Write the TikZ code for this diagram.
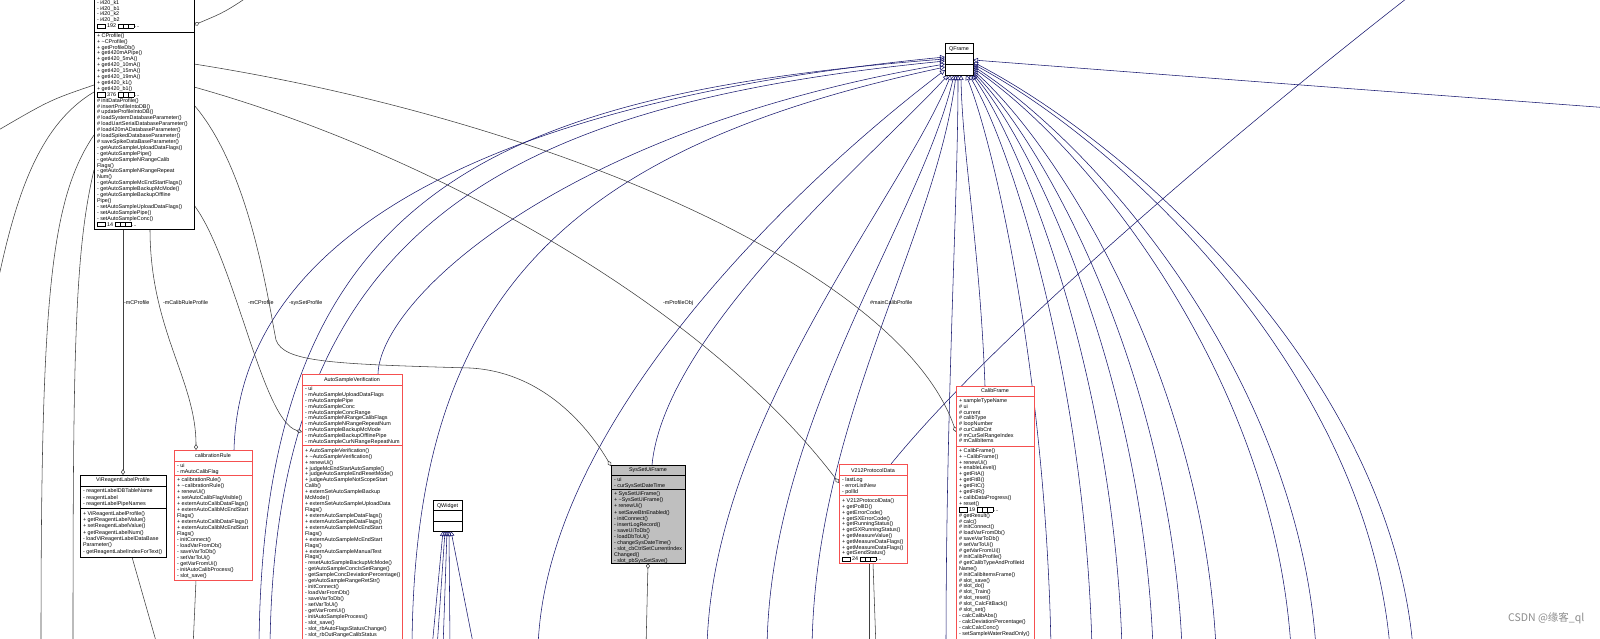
\documentclass[tikz,border=0pt]{standalone}
\usepackage{fontspec}
\setmainfont{Liberation Sans}
\newfontfamily\dxfont{Liberation Sans}
\newfontfamily\dxcjk{Noto Sans CJK SC}
\usetikzlibrary{arrows.meta,calc,backgrounds}
\definecolor{dxnavy}{RGB}{25,25,112}
\definecolor{dxgrey}{RGB}{64,64,64}
\definecolor{dxred}{RGB}{245,80,80}
\definecolor{dxfill}{RGB}{191,191,191}
\newcommand\dxbx[1]{\raisebox{-0.4pt}{\setlength{\fboxsep}{0pt}\setlength{\fboxrule}{0.35pt}\fbox{\rule{0pt}{4.2pt}\hspace*{#1}}}}
\newcommand\dxtrunc[1]{\dxbx{8pt}\ #1\ \dxbx{5pt}\kern-0.35pt\dxbx{5pt}\kern-0.35pt\dxbx{5pt}\,...}
\begin{document}
\begin{tikzpicture}[x=1pt,y=-1pt,
  dxbox/.style={draw=black, line width=0.6pt, fill=white, inner sep=0pt, outer sep=0pt, anchor=north west},
  dxrbox/.style={dxbox, draw=dxred},
  dxtxt/.style={inner sep=0pt, outer sep=0pt, anchor=north west, align=left, font={\dxfont\fontsize{5.4pt}{#1}\selectfont\lineskiplimit=-20pt\lineskip=0pt}},
  dxtxt/.default=5.9pt,
  dxttl/.style={inner sep=0pt, outer sep=0pt, anchor=base, font={\dxfont\fontsize{5.4pt}{6pt}\selectfont}},
  dxlbl/.style={inner sep=0pt, outer sep=0pt, anchor=base west, font={\dxfont\fontsize{5.4pt}{6pt}\selectfont}},
  dxinh/.style={draw=dxnavy, line width=0.55pt, -{Triangle[open,length=5pt,width=5pt]}},
  dxuse/.style={draw=dxgrey, line width=0.55pt, -{Diamond[open,length=6pt,width=4pt]}},
  dxsep/.style={line width=0.6pt}
]
\useasboundingbox (0,0) rectangle (1600,638);
\clip (0,0) rectangle (1600,638);

% ---------------- CProfile
\node[dxbox, minimum width=100pt, minimum height=269pt] (cprof) at (94,-40) {};
\draw[dxsep] (94,32) -- (194,32);
\node[dxtxt] (cprofA) at (97,0.2) {- i420\_k1\\- i420\_b1\\- i420\_k2\\- i420\_b2\\\dxtrunc{192}};
\node[dxtxt] (cprofM) at (97,33.3) {+ CProfile()\\+ \textasciitilde CProfile()\\+ getProfileDb()\\+ getI420mAPipe()\\+ getI420\_5mA()\\+ getI420\_10mA()\\+ getI420\_15mA()\\+ getI420\_19mA()\\+ getI420\_k1()\\+ getI420\_b1()\\\dxtrunc{376}\\\# initDataProfile()\\\# insertProfileIntoDB()\\\# updateProfileIntoDB()\\\# loadSystemDatabaseParameter()\\\# loadUartSerialDatabaseParameter()\\\# load420mADatabaseParameter()\\\# loadSpikedDatabaseParameter()\\\# saveSpikeDataBaseParameter()\\- getAutoSampleUploadDataFlags()\\- getAutoSamplePipe()\\- getAutoSampleNRangeCalib\\Flags()\\- getAutoSampleNRangeRepeat\\Num()\\- getAutoSampleMcEndStartFlags()\\- getAutoSampleBackupMcMode()\\- getAutoSampleBackupOffline\\Pipe()\\- setAutoSampleUploadDataFlags()\\- setAutoSamplePipe()\\- setAutoSampleConc()\\\dxtrunc{14}};

% ---------------- QFrame
\node[dxbox, minimum width=28pt, minimum height=32pt] (qframe) at (945,43) {};
\node[dxttl] (qframeT) at (959,50.3) {QFrame};
\draw[dxsep] (945,53) -- (973,53);
\draw[dxsep] (945,64) -- (973,64);

% ---------------- QWidget
\node[dxbox, minimum width=29pt, minimum height=31pt] (qwidget) at (433,500) {};
\node[dxttl] (qwidgetT) at (447.5,507) {QWidget};
\draw[dxsep] (433,510) -- (462,510);
\draw[dxsep] (433,521) -- (462,521);

% ---------------- AutoSampleVerification
\node[dxrbox, minimum width=100pt, minimum height=280pt] (asv) at (302,374) {};
\node[dxttl] (asvT) at (352,381.4) {AutoSampleVerification};
\draw[dxred, dxsep] (302,385) -- (402,385);
\node[dxtxt=5.95pt] (asvA) at (305,386.3) {- ui\\- mAutoSampleUploadDataFlags\\- mAutoSamplePipe\\- mAutoSampleConc\\- mAutoSampleConcRange\\- mAutoSampleNRangeCalibFlags\\- mAutoSampleNRangeRepeatNum\\- mAutoSampleBackupMcMode\\- mAutoSampleBackupOfflinePipe\\- mAutoSampleCurNRangeRepeatNum};
\draw[dxred, dxsep] (302,445.5) -- (402,445.5);
\node[dxtxt=5.93pt] (asvM) at (305,448.3) {+ AutoSampleVerification()\\+ \textasciitilde AutoSampleVerification()\\+ renewUi()\\+ judgeMcEndStartAutoSample()\\+ judgeAutoSampleEndResetMode()\\+ judgeAutoSampleNotScopeStart\\Calib()\\+ externSetAutoSampleBackup\\McMode()\\+ externSetAutoSampleUploadData\\Flags()\\+ externAutoSampleDataFlags()\\+ externAutoSampleDataFlags()\\+ externAutoSampleMcEndStart\\Flags()\\+ externAutoSampleMcEndStart\\Flags()\\+ externAutoSampleManualTest\\Flags()\\- resetAutoSampleBackupMcMode()\\- getAutoSampleConcIsSetRange()\\- getSampleConcDeviationPercentage()\\- getAutoSampleRangeRetStr()\\- initConnect()\\- loadVarFromDb()\\- saveVarToDb()\\- setVarToUi()\\- getVarFromUi()\\- initAutoSampleProcess()\\- slot\_save()\\- slot\_rbAutoFlagsStatusChange()\\- slot\_rbOutRangeCalibStatus};

% ---------------- calibrationRule
\node[dxrbox, minimum width=78pt, minimum height=130pt] (crule) at (174,450) {};
\node[dxttl] (cruleT) at (213,457.9) {calibrationRule};
\draw[dxred, dxsep] (174,461) -- (252,461);
\node[dxtxt=6pt] (cruleA) at (177,463.8) {- ui\\- mAutoCalibFlag};
\draw[dxred, dxsep] (174,475.5) -- (252,475.5);
\node[dxtxt=6pt] (cruleM) at (177,477.3) {+ calibrationRule()\\+ \textasciitilde calibrationRule()\\+ renewUi()\\+ setAutoCalibFlagVisible()\\+ externAutoCalibDataFlags()\\+ externAutoCalibMcEndStart\\Flags()\\+ externAutoCalibDataFlags()\\+ externAutoCalibMcEndStart\\Flags()\\- initConnect()\\- loadVarFromDb()\\- saveVarToDb()\\- setVarToUi()\\- getVarFromUi()\\- initAutoCalibProcess()\\- slot\_save()};

% ---------------- ViReagentLabelProfile
\node[dxbox, minimum width=86pt, minimum height=82pt] (vr) at (80,475) {};
\node[dxttl] (vrT) at (123,481.8) {ViReagentLabelProfile};
\draw[dxsep] (80,486) -- (166,486);
\node[dxtxt=6.3pt] (vrA) at (83,489) {- reagentLabelDBTableName\\- reagentLabel\\- reagentLabelPipeNames};
\draw[dxsep] (80,508.5) -- (166,508.5);
\node[dxtxt=6.3pt] (vrM) at (83,511.3) {+ ViReagentLabelProfile()\\+ getReagentLabelValue()\\+ setReagentLabelValue()\\+ getReagentLabelNum()\\- loadViReagentLabelDataBase\\Parameter()\\- getReagentLabelIndexForText()};

% ---------------- SysSetUiFrame
\node[dxbox, fill=dxfill, minimum width=74pt, minimum height=98pt] (sys) at (611,465) {};
\node[dxttl] (sysT) at (648,471.9) {SysSetUiFrame};
\draw[dxsep] (611,475) -- (685,475);
\node[dxtxt=6pt] (sysA) at (614,477.3) {- ui\\- curSysSetDateTime};
\draw[dxsep] (611,489) -- (685,489);
\node[dxtxt=6.1pt] (sysM) at (614,491.8) {+ SysSetUiFrame()\\+ \textasciitilde SysSetUiFrame()\\+ renewUi()\\+ setSaveBtnEnabled()\\- initConnect()\\- insertLogRecord()\\- saveUiToDb()\\- loadDbToUi()\\- changeSysDateTime()\\- slot\_cbCtrlSetCurrentIndex\\Changed()\\- slot\_pbSysSetSave()};

% ---------------- V212ProtocolData
\node[dxrbox, minimum width=68pt, minimum height=99pt] (v212) at (839,464) {};
\node[dxttl] (v212T) at (873,472) {V212ProtocolData};
\draw[dxred, dxsep] (839,475) -- (907,475);
\node[dxtxt=6pt] (v212A) at (842,477.3) {- lastLog\\- errorListNew\\- pollId};
\draw[dxred, dxsep] (839,495.5) -- (907,495.5);
\node[dxtxt=5.8pt] (v212M) at (842,498.8) {+ V212ProtocolData()\\+ getPollID()\\+ getErrorCode()\\+ getSXErrorCode()\\+ getRunningStatus()\\+ getSXRunningStatus()\\+ getMeasureValue()\\+ getMeasureDataFlags()\\+ getMeasureDataFlags()\\+ getSendStatus()\\\dxtrunc{24}};

% ---------------- CalibFrame
\node[dxrbox, minimum width=78pt, minimum height=280pt] (calib) at (956,386) {};
\node[dxttl] (calibT) at (995,392.9) {CalibFrame};
\draw[dxred, dxsep] (956,396) -- (1034,396);
\node[dxtxt=5.75pt] (calibA) at (959,398.8) {+ sampleTypeName\\\# ui\\\# current\\\# calibType\\\# loopNumber\\\# curCalibCnt\\\# mCurSelRangeIndex\\\# mCalibItems};
\draw[dxred, dxsep] (956,446) -- (1034,446);
\node[dxtxt=5.9pt] (calibM) at (959,448.3) {+ CalibFrame()\\+ \textasciitilde CalibFrame()\\+ renewUi()\\+ enableLevel()\\+ getFitA()\\+ getFitB()\\+ getFitC()\\+ getFitR()\\+ calibDataProgress()\\+ reset()\\\dxtrunc{19}\\\# getResult()\\\# calc()\\\# initConnect()\\\# loadVarFromDb()\\\# saveVarToDb()\\\# setVarToUi()\\\# getVarFromUi()\\\# initCalibProfile()\\\# getCalibTypeAndProfileId\\Name()\\\# initCalibItemsFrame()\\\# slot\_save()\\\# slot\_do()\\\# slot\_Train()\\\# slot\_reset()\\\# slot\_CalcFitBack()\\\# slot\_set()\\- calcCalibAbs()\\- calcDeviationPercentage()\\- calcCalcConc()\\- setSampleWaterReadOnly()};

% ---------------- edge labels
\node[dxlbl] (l1) at (124,304) {-mCProfile};
\node[dxlbl] (l2) at (163,304) {-mCalibRuleProfile};
\node[dxlbl] (l3) at (248,304) {-mCProfile};
\node[dxlbl] (l4) at (289,304) {-sysSetProfile};
\node[dxlbl] (l5) at (663,304) {-mProfileObj};
\node[dxlbl] (l6) at (870,304) {\#mainCalibProfile};

% ---------------- watermark
\node[anchor=west, inner sep=0pt, text=black!45, font={\dxcjk\fontsize{10.5pt}{12pt}\selectfont}] (wm) at (1508,618) {CSDN @缘客\_ql};

% ---------------- connectors
\begin{pgfonlayer}{background}
\fill[white] (0,0) rectangle (1600,638);
\coordinate (b1) at (259,648);
\coordinate (b2) at (270,648);
\coordinate (b3) at (412,648);
\coordinate (b4) at (538,648);
\coordinate (b5) at (707,648);
\coordinate (b6) at (767,648);
\coordinate (b7) at (812,648);
\coordinate (b8) at (946,648);
\coordinate (offR) at (1610,108);
\coordinate (offTR) at (1420,-12);
\coordinate (offT1) at (255,-8);
\coordinate (offL1) at (-10,135);
\coordinate (offL2) at (-10,320);
\coordinate (offL3) at (41,648);
\coordinate (offL4) at (73,648);
\coordinate (offB1) at (158,648);
\coordinate (offB2) at (193,648);
\coordinate (offB3) at (646,648);
\coordinate (offB4) at (869,648);
\coordinate (offB5) at (876,648);
\coordinate (w1) at (432,648);
\coordinate (w2) at (437,648);
\coordinate (w3) at (443,648);
\coordinate (w4) at (450,648);
\coordinate (w5) at (474,648);

% inheritance into QFrame (left side)
\draw[dxinh] ($(crule.north west)+(60,0)$) .. controls (240,230) and (500,100) .. ($(qframe.north west)+(0,14)$);
\draw[dxinh] (b1) .. controls (262,200) and (480,95) .. ($(qframe.north west)+(0,16)$);
\draw[dxinh] (b2) .. controls (274,230) and (500,105) .. ($(qframe.north west)+(0,18)$);
\draw[dxinh] ($(asv.north west)+(76,0)$) .. controls (380,300) and (560,130) .. ($(qframe.north west)+(0,21)$);
\draw[dxinh] (b3) .. controls (414,300) and (560,150) .. ($(qframe.north west)+(0,24)$);
\draw[dxinh] (b4) .. controls (545,420) and (800,180) .. ($(qframe.north west)+(0,27)$);
% inheritance into QFrame (bottom)
\draw[dxinh] ($(sys.north west)+(41,0)$) .. controls (665,330) and (880,150) .. ($(qframe.south west)+(3,0)$);
\draw[dxinh] (b5) .. controls (712,420) and (900,200) .. ($(qframe.south west)+(6,0)$);
\draw[dxinh] (b6) .. controls (770,420) and (920,220) .. ($(qframe.south west)+(9,0)$);
\draw[dxinh] (b7) .. controls (815,420) and (935,240) .. ($(qframe.south west)+(11,0)$);
\draw[dxinh] (b8) .. controls (946,400) and (958,200) .. ($(qframe.south west)+(13,0)$);
\draw[dxinh] ($(calib.north west)+(29,0)$) .. controls (980,250) and (962,150) .. ($(qframe.south west)+(16,0)$);
% right fan
\coordinate (r1) at (1051,648);
\coordinate (r2) at (1092,648);
\coordinate (r3) at (1122,648);
\coordinate (r4) at (1153,648);
\coordinate (r5) at (1182,648);
\coordinate (r6) at (1216,648);
\coordinate (r7) at (1291,648);
\coordinate (r8) at (1316,648);
\coordinate (r9) at (1390,648);
\coordinate (r10) at (1413,648);
\draw[dxinh] (r1) .. controls (1046,380) and (996,150) .. ($(qframe.south west)+(21,0)$);
\draw[dxinh] (r2) .. controls (1085,380) and (1013,150) .. ($(qframe.south west)+(24,0)$);
\draw[dxinh] (r3) .. controls (1114,380) and (1025,150) .. ($(qframe.south west)+(27,0)$);
\draw[dxinh] (r4) .. controls (1143,380) and (1037,150) .. ($(qframe.north east)+(0,31)$);
\draw[dxinh] (r5) .. controls (1171,380) and (1049,150) .. ($(qframe.north east)+(0,29)$);
\draw[dxinh] (r6) .. controls (1203,380) and (1062,150) .. ($(qframe.north east)+(0,27)$);
\draw[dxinh] (r7) .. controls (1274,380) and (1092,150) .. ($(qframe.north east)+(0,25)$);
\draw[dxinh] (r8) .. controls (1298,380) and (1102,150) .. ($(qframe.north east)+(0,23)$);
\draw[dxinh] (r9) .. controls (1368,380) and (1132,150) .. ($(qframe.north east)+(0,21)$);
\draw[dxinh] (r10) .. controls (1390,380) and (1141,150) .. ($(qframe.north east)+(0,19)$);
\draw[dxinh] (offR) .. controls (1300,85) .. ($(qframe.north east)+(0,17)$);
% V212 to upper right
\draw[dxinh] ($(v212.north west)+(52,0)$) .. controls (1000,330) and (1250,120) .. (offTR);
% QWidget
\draw[dxinh] (w1) -- ($(qwidget.south west)+(10,0)$);
\draw[dxinh] (w2) -- ($(qwidget.south west)+(12,0)$);
\draw[dxinh] (w3) -- ($(qwidget.south west)+(14,0)$);
\draw[dxinh] (w4) -- ($(qwidget.south west)+(16,0)$);
\draw[dxinh] (w5) -- ($(qwidget.south west)+(18,0)$);

% usage (CProfile members)
\draw[dxuse] (cprof.south -| vr.north) -- (vr.north);
\draw[dxuse] ($(cprof.south west)+(56,0)$) .. controls (150,330) and (196,380) .. ($(crule.north west)+(22,0)$);
\draw[dxuse] ($(cprof.north east)+(0,245)$) .. controls (235,260) and (262,420) .. ($(asv.north west)+(0,58)$);
\draw[dxuse] ($(cprof.north east)+(0,145)$) .. controls (250,170) and (268,300) .. (276,340) .. controls (284,362) and (330,364) .. (470,368) .. controls (545,372) and (590,430) .. ($(sys.north west)+(0,1)$);
\draw[dxuse] ($(cprof.north east)+(0,127)$) .. controls (420,150) and (700,300) .. ($(v212.north west)+(0,19)$);
\draw[dxuse] ($(cprof.north east)+(0,104)$) .. controls (550,120) and (900,270) .. ($(calib.north west)+(0,46)$);
\draw[dxuse] (offT1) .. controls (225,12) .. ($(cprof.north east)+(0,65)$);
\draw[dxuse] ($(cprof.north west)+(0,125)$) .. controls (50,100) .. (offL1);
\draw[dxuse] ($(cprof.north west)+(0,132)$) .. controls (30,130) and (10,220) .. (offL2);
\draw[dxuse] ($(cprof.north west)+(0,175)$) .. controls (50,200) and (41,300) .. (offL3);
\draw[dxuse] ($(cprof.north west)+(0,210)$) .. controls (75,250) and (73,350) .. (offL4);
\draw[dxuse] ($(vr.south west)+(52,0)$) -- (offB1);
\draw[dxuse] ($(crule.south west)+(22,0)$) -- (offB2);
\draw[dxuse] (offB3) -- (sys.south);
\draw[dxuse] ($(v212.south west)+(30,0)$) -- (offB4);
\draw[dxuse] ($(v212.south west)+(34,0)$) -- (offB5);
\end{pgfonlayer}
\end{tikzpicture}
\end{document}
